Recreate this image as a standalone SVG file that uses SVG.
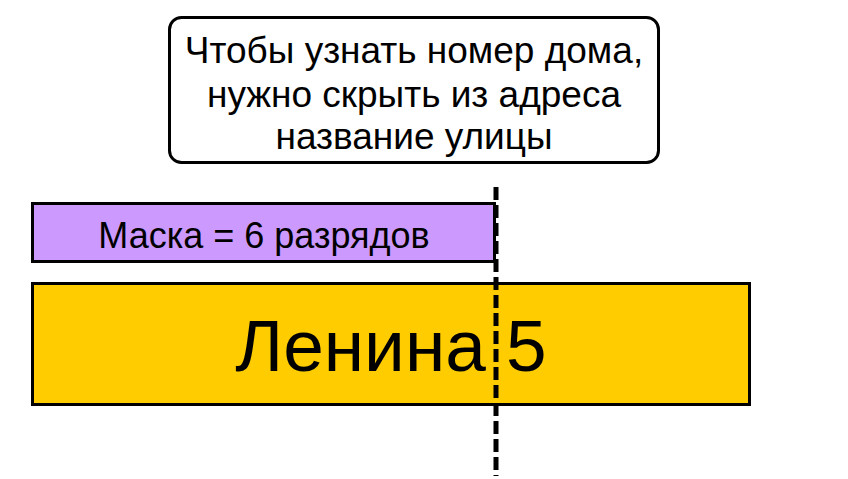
<svg xmlns="http://www.w3.org/2000/svg" width="848" height="479" viewBox="0 0 848 479">
<style>
text{font-family:"Liberation Sans",Arial,sans-serif;fill:#000;text-anchor:middle}
.box{stroke:#000;stroke-width:3}
</style>
<rect width="848" height="479" fill="#fff"/>
<g id="callout">
<rect class="box" x="169.5" y="17.5" width="489" height="145" rx="12" fill="#fff"/>
<text x="414" y="63" font-size="37">Чтобы узнать номер дома,</text>
<text x="414" y="107" font-size="37">нужно скрыть из адреса</text>
<text x="414" y="149" font-size="37">название улицы</text>
</g>
<g id="mask">
<rect class="box" x="32.5" y="203.5" width="462" height="58" fill="#cc99ff"/>
<text x="264" y="248" font-size="36">Маска = 6 разрядов</text>
</g>
<g id="address">
<rect class="box" x="32.5" y="283.5" width="717" height="121" fill="#ffcc00"/>
<text x="391" y="371" font-size="73">Ленина 5</text>
</g>
<g id="connectors">
<line x1="496" y1="187" x2="496" y2="476" stroke="#000" stroke-width="5" stroke-dasharray="13,5"/>
</g>
</svg>
